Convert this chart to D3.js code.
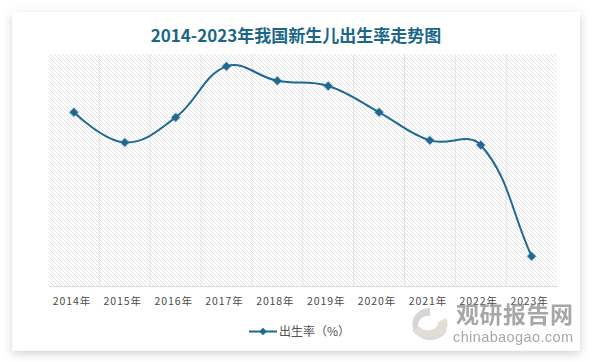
<!DOCTYPE html>
<html><head><meta charset="utf-8">
<script src="https://cdn.jsdelivr.net/npm/d3@7"></script>
<style>
html,body{margin:0;padding:0;background:#fff;}
svg{display:block;}
</style></head>
<body>
<svg id="c" width="592" height="362"></svg>
<script>
const title = "2014-2023年我国新生儿出生率走势图";
const years = ["2014年","2015年","2016年","2017年","2018年","2019年","2020年","2021年","2022年","2023年"];
const birthRate = [11.74,10.57,11.54,13.52,12.96,12.76,11.74,10.65,10.47,6.15];
const seriesName = "出生率（%）";

// smooth curve (distance-weighted bezier)
function smoothCurve(context){
  let pts;
  return {
    areaStart(){}, areaEnd(){},
    lineStart(){ pts = []; },
    point(x,y){ pts.push([+x,+y]); },
    lineEnd(){
      const n = pts.length, s = 0.4;
      if(!n) return;
      context.moveTo(pts[0][0], pts[0][1]);
      let cp0 = pts[0].slice();
      for(let i=1;i<n;i++){
        const p = pts[i], prev = pts[i-1], next = pts[Math.min(i+1,n-1)];
        const vx = next[0]-prev[0], vy = next[1]-prev[1];
        const l0 = Math.hypot(p[0]-prev[0], p[1]-prev[1]);
        const l1 = Math.hypot(next[0]-p[0], next[1]-p[1]);
        const r = (l0+l1) ? l1/(l0+l1) : 0;
        const cp1 = [p[0]-vx*s*(1-r), p[1]-vy*s*(1-r)];
        context.bezierCurveTo(cp0[0],cp0[1],cp1[0],cp1[1],p[0],p[1]);
        cp0 = [p[0]+vx*s*r, p[1]+vy*s*r];
      }
    }
  };
}

const W = 592, H = 362;
const svg = d3.select("#c");
const defs = svg.append("defs");
const f = defs.append("filter").attr("id","sh").attr("x","-10%").attr("y","-10%").attr("width","120%").attr("height","125%");
f.append("feDropShadow").attr("dx",0).attr("dy",3).attr("stdDeviation",5).attr("flood-color","#000").attr("flood-opacity",0.18);
const pat = defs.append("pattern").attr("id","hatch").attr("patternUnits","userSpaceOnUse")
  .attr("width",4).attr("height",4);
pat.append("rect").attr("width",4).attr("height",4).attr("fill","#fff");
pat.append("path").attr("d","M-1,-1 L5,5 M-1,3 L1,5 M3,-1 L5,1").attr("stroke","#e0e0e0").attr("stroke-width",0.9);

svg.append("rect").attr("x",12.5).attr("y",12).attr("width",567.5).attr("height",338.5)
  .attr("fill","#fff").attr("filter","url(#sh)");

svg.append("text").attr("x",296).attr("y",42).attr("text-anchor","middle")
  .attr("font-family","'Noto Sans CJK SC'").attr("font-weight","bold").attr("font-size",17)
  .attr("fill","#1c6689").text(title);

const m = {l:48.5, r:557, t:54, b:286};
const x = d3.scaleBand().domain(years).range([m.l, m.r]);
const y = d3.scaleLinear().domain([5,14]).range([m.b, m.t]);

svg.append("rect").attr("x",m.l).attr("y",m.t).attr("width",m.r-m.l).attr("height",m.b-m.t).attr("fill","url(#hatch)");

svg.append("g").selectAll("line").data(years.slice(1)).join("line")
  .attr("x1",d=>x(d)).attr("x2",d=>x(d)).attr("y1",m.t).attr("y2",m.b)
  .attr("stroke","#e4e4e4").attr("stroke-width",1);

const ax = svg.append("g").attr("transform",`translate(0,${m.b})`)
  .call(d3.axisBottom(x).tickSize(0).tickPadding(12));
ax.select(".domain").attr("stroke","#dcdcdc");
ax.selectAll("text").attr("font-family","'Noto Sans CJK SC'").attr("font-size",10.5)
  .attr("fill","#4a4a4a").attr("letter-spacing",0.9).attr("dx",-2);

const cx = d => x(d) + x.bandwidth()/2;
const line = d3.line().x((d,i)=>cx(years[i])).y(d=>y(d)).curve(smoothCurve);
const col = "#1f6891";
svg.append("path").datum(birthRate).attr("d",line).attr("fill","none").attr("stroke",col).attr("stroke-width",2);

const dia = (px,py,r) => `M${px},${py-r}L${px+r},${py}L${px},${py+r}L${px-r},${py}Z`;
svg.append("g").selectAll("path").data(birthRate).join("path")
  .attr("d",(d,i)=>dia(cx(years[i]), y(d), 4.2)).attr("fill",col)
  .attr("stroke",col).attr("stroke-opacity",0.35).attr("stroke-width",1.5);

// legend
const lg = svg.append("g");
lg.append("line").attr("x1",249).attr("x2",277).attr("y1",331.5).attr("y2",331.5).attr("stroke",col).attr("stroke-width",2);
lg.append("path").attr("d",dia(263,331.5,3.8)).attr("fill",col);
lg.append("text").attr("x",279).attr("y",336).attr("font-family","'Noto Sans CJK SC'").attr("font-size",12)
  .attr("fill","#555").text(seriesName);

// watermark
const wm = svg.append("g").attr("opacity",0.75);
wm.append("path").attr("d","M430,308 A18,16 0 1,0 447,330 L438,326 A10,9 0 1,1 430,316 Z").attr("fill","#c9c9c9");
wm.append("path").attr("d","M412,330 A18,14 0 0,0 446,318 L438,322 A10,8 0 0,1 420,327 Z").attr("fill","#d8d4cc");
wm.append("text").attr("x",456).attr("y",323).attr("font-family","'Noto Sans CJK SC'").attr("font-weight","bold")
  .attr("font-size",23).attr("fill","#8a8a8a").attr("textLength",117).text("观研报告网");
wm.append("text").attr("x",453).attr("y",342).attr("font-family","'Liberation Sans'")
  .attr("font-size",14.5).attr("fill","#8a8a8a").attr("textLength",120).text("chinabaogao.com");
</script>
</body></html>
